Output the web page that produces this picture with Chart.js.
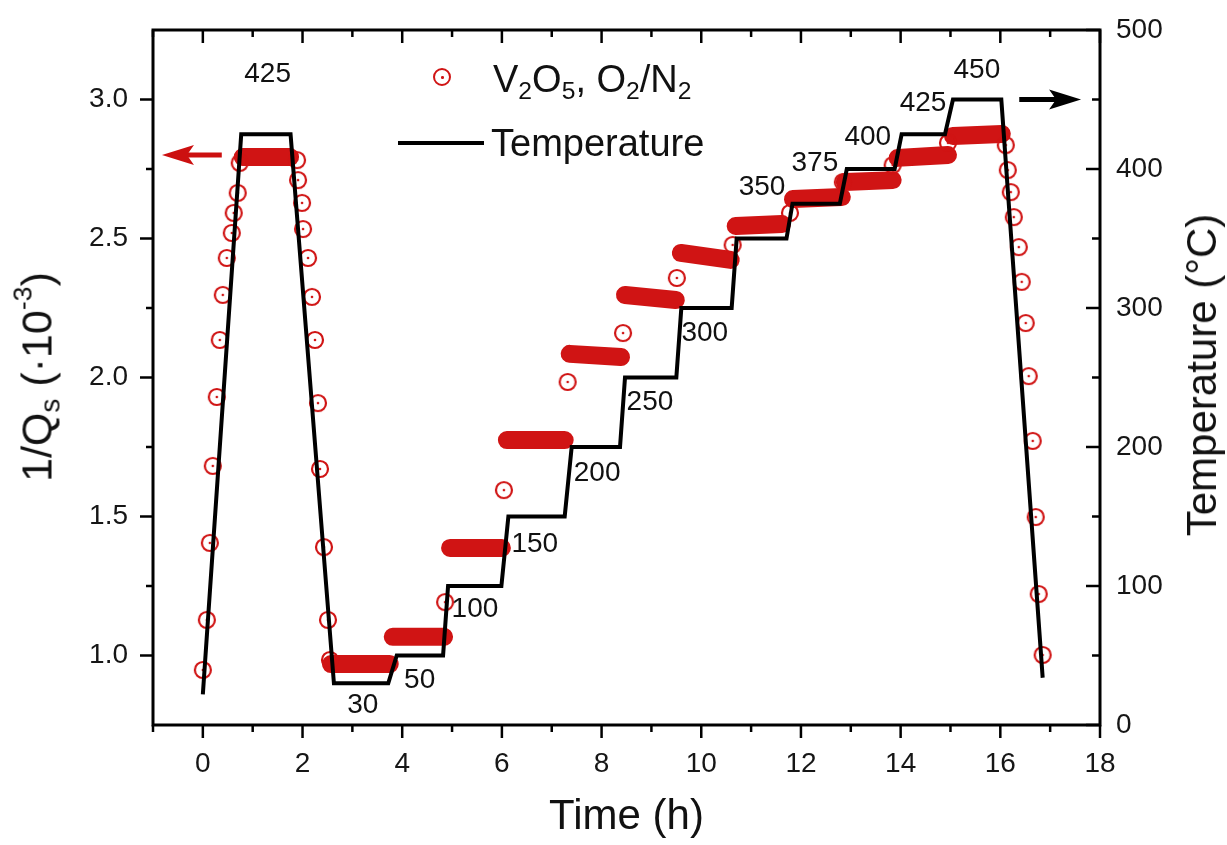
<!DOCTYPE html>
<html>
<head>
<meta charset="utf-8">
<script src="https://cdn.jsdelivr.net/npm/chart.js@4.4.1/dist/chart.umd.min.js"></script>
<style>
  body { margin: 0; background: #fff; font-family: "Liberation Sans", Arial, sans-serif; }
  #wrap { position: relative; width: 1227px; height: 845px; }
  #chart { position: absolute; left: 0; top: 0; }
  .txt { position: absolute; color: #111; white-space: nowrap; }
  .txt sub { font-size: 0.65em; vertical-align: -0.3em; line-height: 0; }
  .txt sup { font-size: 0.62em; vertical-align: 0.75em; line-height: 0; }
  .rot { transform: translate(-50%, -50%) rotate(-90deg); }
  #ytitle { left: 37px; top: 377px; font-size: 43px; line-height: 43px; }
  #y2title { left: 1202px; top: 375px; font-size: 42px; line-height: 42px; }
  .leg { font-size: 38px; line-height: 38px; }
  #legMark { position: absolute; left: 433px; top: 68px; width: 14px; height: 14px;
    border: 2px solid #d01414; border-radius: 50%; }
  #legMark::after { content: ""; position: absolute; left: 6px; top: 6px; width: 2.5px; height: 2.5px;
    background: #d01414; border-radius: 50%; }
  #legLine { position: absolute; left: 398px; top: 141px; width: 86px; height: 4px; background: #000; }
</style>
</head>
<body>
<div id="wrap">
  <canvas id="chart" width="1227" height="845"></canvas>
  <div class="txt rot" id="ytitle">1/Q<sub>s</sub> (·10<sup>-3</sup>)</div>
  <div class="txt rot" id="y2title">Temperature (°C)</div>
  <div id="legMark"></div>
  <div class="txt leg" style="left:493px; top:60px;">V<sub>2</sub>O<sub>5</sub>, O<sub>2</sub>/N<sub>2</sub></div>
  <div id="legLine"></div>
  <div class="txt leg" style="left:491px; top:124px;">Temperature</div>
</div>
<script>
// axis ticks
const xTicks = [0, 2, 4, 6, 8, 10, 12, 14, 16, 18];
const xMinor = [-1, 1, 3, 5, 7, 9, 11, 13, 15, 17];
const qTicks = [1.0, 1.5, 2.0, 2.5, 3.0];
const qMinor = [1.25, 1.75, 2.25, 2.75];
const tTicks = [0, 100, 200, 300, 400, 500];
const tMinor = [50, 150, 250, 350, 450];

// single 1/Qs readings: heating ramp, cooling ramp, jumps between steps, final cooling
const qTime = [0.00, 0.08, 0.14, 0.20, 0.28, 0.34, 0.40, 0.48, 0.58, 0.62, 0.70, 0.74,
  1.89, 1.91, 1.99, 2.01, 2.11, 2.19, 2.25, 2.31, 2.35, 2.43, 2.51, 2.55,
  4.86, 6.04, 7.32, 8.43, 9.51, 10.63, 11.78, 12.84, 13.84, 14.95,
  16.11, 16.15, 16.21, 16.27, 16.37, 16.43, 16.51, 16.57, 16.65, 16.71, 16.77, 16.85];
const qValue = [0.948, 1.128, 1.405, 1.682, 1.930, 2.135, 2.297, 2.430, 2.520, 2.592, 2.664, 2.772,
  2.782, 2.710, 2.628, 2.534, 2.430, 2.290, 2.135, 1.908, 1.671, 1.390, 1.128, 0.984,
  1.192, 1.595, 1.984, 2.160, 2.358, 2.477, 2.592, 2.703, 2.764, 2.844,
  2.836, 2.746, 2.667, 2.577, 2.469, 2.344, 2.196, 2.005, 1.772, 1.498, 1.221, 1.002];

// dense runs of readings while the temperature is held
const plateauFrom  = [0.80, 2.57, 3.81, 4.96, 6.10, 7.36, 8.47, 9.59, 10.69, 11.84, 12.88, 13.94, 15.05];
const plateauTo    = [1.75, 3.75, 4.84, 6.00, 7.26, 8.39, 9.49, 10.59, 11.62, 12.82, 13.84, 14.95, 16.03];
const plateauQFrom = [2.793, 0.969, 1.067, 1.387, 1.775, 2.085, 2.297, 2.448, 2.545, 2.642, 2.703, 2.790, 2.869];
const plateauQTo   = [2.793, 0.969, 1.067, 1.387, 1.775, 2.074, 2.279, 2.423, 2.552, 2.649, 2.710, 2.800, 2.876];

// temperature program
const stepTemps = [425, 30, 50, 100, 150, 200, 250, 300, 350, 375, 400, 425, 450];
const stepOn    = [0.77, 2.63, 3.89, 4.92, 6.13, 7.40, 8.47, 9.60, 10.71, 11.83, 12.92, 14.02, 15.05];
const stepOff   = [1.76, 3.72, 4.82, 5.99, 7.26, 8.37, 9.50, 10.61, 11.71, 12.78, 13.88, 14.89, 16.02];
const startPoint = [0, 22];
const endPoint = [16.85, 34];

const RED = '#d01414';
Chart.defaults.font.family = '"Liberation Sans", Arial, sans-serif';
Chart.defaults.color = '#161616';

// open circle with a dot in the middle
function ringDot() {
  const c = document.createElement('canvas');
  c.width = 22; c.height = 22;
  const g = c.getContext('2d');
  g.strokeStyle = RED; g.fillStyle = RED; g.lineWidth = 2.2;
  g.beginPath(); g.arc(11, 11, 8, 0, Math.PI * 2); g.stroke();
  g.beginPath(); g.arc(11, 11, 1.3, 0, Math.PI * 2); g.fill();
  return c;
}

let tempData = [{x: startPoint[0], y: startPoint[1]}];
for (let i = 0; i < stepTemps.length; i++) {
  tempData.push({x: stepOn[i], y: stepTemps[i]});
  tempData.push({x: stepOff[i], y: stepTemps[i]});
}
tempData.push({x: endPoint[0], y: endPoint[1]});

let plateauData = [];
for (let i = 0; i < plateauFrom.length; i++) {
  plateauData.push({x: plateauFrom[i], y: plateauQFrom[i]});
  plateauData.push({x: plateauTo[i], y: plateauQTo[i]});
  plateauData.push({x: plateauTo[i] + 0.01, y: null});
}

const scatterData = qTime.map((t, i) => ({x: t, y: qValue[i]}));

// frame and tick marks (outward on bottom/left, inward on top/right)
const frameTicks = {
  id: 'frameTicks',
  afterDraw(chart) {
    const {ctx, chartArea: a, scales} = chart;
    const line = (x1, y1, x2, y2) => { ctx.beginPath(); ctx.moveTo(x1, y1); ctx.lineTo(x2, y2); ctx.stroke(); };
    ctx.save();
    ctx.strokeStyle = '#000';
    ctx.lineWidth = 2.5;
    xTicks.forEach(v => { const x = scales.x.getPixelForValue(v); line(x, a.bottom, x, a.bottom + 13); line(x, a.top, x, a.top + 13); });
    xMinor.forEach(v => { const x = scales.x.getPixelForValue(v); line(x, a.bottom, x, a.bottom + 7); line(x, a.top, x, a.top + 7); });
    qTicks.forEach(v => { const y = scales.yQ.getPixelForValue(v); line(a.left - 13, y, a.left, y); });
    qMinor.forEach(v => { const y = scales.yQ.getPixelForValue(v); line(a.left - 7, y, a.left, y); });
    tTicks.forEach(v => { const y = scales.yT.getPixelForValue(v); line(a.right - 14, y, a.right, y); });
    tMinor.forEach(v => { const y = scales.yT.getPixelForValue(v); line(a.right - 8, y, a.right, y); });
    ctx.lineWidth = 3;
    ctx.strokeRect(a.left, a.top, a.right - a.left, a.bottom - a.top);
    ctx.restore();
  }
};

// temperature values written next to each step, and the arrows pointing to each axis
const annotations = {
  id: 'annotations',
  afterDatasetsDraw(chart, args, opts) {
    const {ctx, scales} = chart;
    ctx.save();
    ctx.font = '28px "Liberation Sans", Arial, sans-serif';
    ctx.fillStyle = '#111';
    ctx.textAlign = 'center';
    ctx.textBaseline = 'middle';
    stepTemps.forEach((T, i) => {
      const p = opts.labelAt[i];
      ctx.fillText(String(T), scales.x.getPixelForValue(p[0]), scales.yT.getPixelForValue(p[1]));
    });
    opts.arrows.forEach(ar => {
      const y = scales[ar.axis].getPixelForValue(ar.level);
      const x0 = scales.x.getPixelForValue(ar.from);
      const x1 = scales.x.getPixelForValue(ar.to);
      const dir = Math.sign(x1 - x0);
      ctx.strokeStyle = ar.color; ctx.fillStyle = ar.color;
      ctx.lineWidth = 5;
      ctx.beginPath(); ctx.moveTo(x0, y); ctx.lineTo(x1 - dir * 20, y); ctx.stroke();
      ctx.beginPath();
      ctx.moveTo(x1, y);
      ctx.lineTo(x1 - dir * 32, y - 10);
      ctx.lineTo(x1 - dir * 25, y);
      ctx.lineTo(x1 - dir * 32, y + 10);
      ctx.closePath(); ctx.fill();
    });
    ctx.restore();
  }
};

// fixed axis boxes so the plot area sits at 153..1100 x 30..725
const fixWidth = w => s => { s.width = w; s.paddingTop = 0; s.paddingBottom = 0; };

new Chart(document.getElementById('chart'), {
  data: {
    datasets: [
      {
        type: 'line', label: 'Temperature', data: tempData, yAxisID: 'yT', order: 0,
        borderColor: '#000', borderWidth: 4, pointRadius: 0, tension: 0, borderJoinStyle: 'miter'
      },
      {
        type: 'scatter', label: 'V2O5, O2/N2', data: scatterData, yAxisID: 'yQ', order: 1,
        pointStyle: ringDot(), pointRadius: 9
      },
      {
        type: 'line', label: 'held', data: plateauData, yAxisID: 'yQ', order: 2,
        borderColor: RED, borderWidth: 18, borderCapStyle: 'round', pointRadius: 0,
        spanGaps: false, tension: 0
      }
    ]
  },
  options: {
    responsive: false,
    animation: false,
    events: [],
    layout: { padding: { top: 30, left: 0, right: 0, bottom: 0 } },
    plugins: {
      legend: { display: false },
      tooltip: { enabled: false },
      annotations: {
        labelAt: [[1.30, 468], [3.21, 14], [4.35, 32], [5.46, 83], [6.66, 130], [7.91, 181], [8.97, 232],
                  [10.07, 282], [11.22, 387], [12.28, 404], [13.34, 423], [14.45, 447], [15.53, 471]],
        arrows: [
          { axis: 'yQ', level: 2.80, from: 0.38, to: -0.82, color: '#cc1010' },
          { axis: 'yT', level: 450, from: 16.38, to: 17.62, color: '#000' }
        ]
      }
    },
    scales: {
      x: {
        type: 'linear', position: 'bottom', min: -1, max: 18,
        afterBuildTicks: s => { s.ticks = xTicks.map(v => ({ value: v })); },
        afterFit: s => { s.height = 120; s.paddingLeft = 0; s.paddingRight = 0; },
        grid: { display: false, drawTicks: false },
        border: { display: false },
        ticks: { font: { size: 28 }, padding: 22, maxRotation: 0, callback: v => String(v) },
        title: { display: true, text: 'Time (h)', font: { size: 42 }, color: '#111', padding: { top: 0, bottom: 2 } }
      },
      yQ: {
        type: 'linear', position: 'left', min: 0.75, max: 3.25,
        afterBuildTicks: s => { s.ticks = qTicks.map(v => ({ value: v })); },
        afterFit: fixWidth(153),
        grid: { display: false, drawTicks: false },
        border: { display: false },
        ticks: { font: { size: 28 }, padding: 25, callback: v => v.toFixed(1) }
      },
      yT: {
        type: 'linear', position: 'right', min: 0, max: 500,
        afterBuildTicks: s => { s.ticks = tTicks.map(v => ({ value: v })); },
        afterFit: fixWidth(127),
        grid: { display: false, drawTicks: false },
        border: { display: false },
        ticks: { font: { size: 28 }, padding: 16, callback: v => String(v) }
      }
    }
  },
  plugins: [frameTicks, annotations]
});
</script>
</body>
</html>
